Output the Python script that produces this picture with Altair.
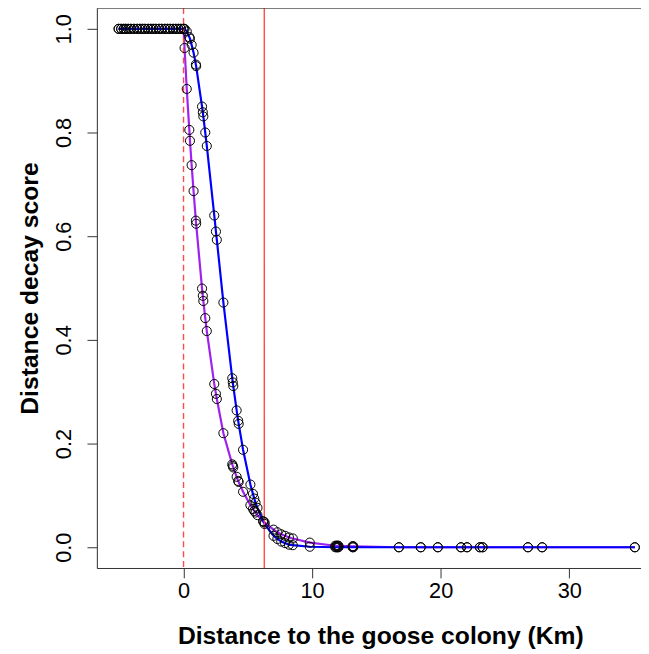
import altair as alt
import pandas as pd

# distances (km) left of the colony edge: both scores are 1
neg_x = [-5.05, -4.85, -4.65, -4.5, -4.3, -4.1, -3.85, -3.6, -3.4, -3.2, -3.0,
         -2.75, -2.55, -2.35, -2.15, -1.9, -1.7, -1.45, -1.25, -1.05, -0.8,
         -0.6, -0.4, -0.2, 0.0]

pos_x = [0.08, 0.25, 0.45, 0.50, 0.63, 0.78, 0.96, 0.98, 1.44, 1.50, 1.54,
         1.69, 1.81, 2.39, 2.52, 2.59, 3.10, 3.79, 3.83, 3.87, 4.13, 4.25,
         4.29, 4.63, 5.20, 5.40, 5.50, 5.60, 5.75, 6.20, 6.30, 7.00, 7.30,
         7.60, 7.90, 8.20, 8.50, 9.82, 11.80, 11.90, 11.98, 12.05, 13.15,
         13.20, 16.75, 18.45, 19.78, 21.58, 22.05, 23.05, 23.26, 26.79,
         27.89, 35.10]

purple_pos = [0.963, 0.884, 0.805, 0.784, 0.737, 0.687, 0.630, 0.624, 0.499,
              0.485, 0.475, 0.442, 0.417, 0.315, 0.296, 0.286, 0.220, 0.160,
              0.157, 0.154, 0.136, 0.128, 0.126, 0.107, 0.081, 0.074, 0.070,
              0.067, 0.062, 0.050, 0.048, 0.034, 0.029, 0.025, 0.022, 0.019,
              0.017, 0.009, 0.003, 0.003, 0.003, 0.003, 0.002, 0.002, 0.0,
              0.0, 0.0, 0.0, 0.0, 0.0, 0.0, 0.0, 0.0, 0.0]

blue_pos = [1.000, 0.995, 0.984, 0.981, 0.969, 0.954, 0.931, 0.928, 0.850,
            0.839, 0.831, 0.800, 0.774, 0.640, 0.609, 0.593, 0.472, 0.326,
            0.318, 0.311, 0.264, 0.244, 0.238, 0.188, 0.121, 0.103, 0.094,
            0.086, 0.076, 0.050, 0.045, 0.022, 0.016, 0.011, 0.008, 0.005,
            0.004, 0.001, 0.0, 0.0, 0.0, 0.0, 0.0, 0.0, 0.0, 0.0, 0.0, 0.0,
            0.0, 0.0, 0.0, 0.0, 0.0, 0.0]

series_names = ["purple", "blue"]
series_colors = ["#A020F0", "#0000FF"]

vline_x = [0.0, 6.28]
vline_dash = ["dashed", "solid"]

x_ticks = [0, 10, 20, 30]
y_ticks = [0.0, 0.2, 0.4, 0.6, 0.8, 1.0]

rows = []
for name, ys in zip(series_names, [purple_pos, blue_pos]):
    for x in neg_x:
        rows.append({"x": x, "y": 1.0, "series": name})
    for x, y in zip(pos_x, ys):
        rows.append({"x": x, "y": y, "series": name})
df = pd.DataFrame(rows)

vdf = pd.DataFrame({"x": vline_x, "kind": vline_dash})

FONT = "Liberation Sans"
XDOM = [-6.74, 35.58]
YDOM = [-0.04, 1.04]
W, H = 551, 567

xscale = alt.Scale(domain=XDOM, nice=False, zero=False)
yscale = alt.Scale(domain=YDOM, nice=False, zero=False)

xaxis = alt.Axis(values=x_ticks, tickSize=10, tickColor="#333", domainColor="#333",
                 tickWidth=1, domainWidth=1, grid=False, labelFont=FONT,
                 labelFontSize=22, labelColor="black", labelBaseline="alphabetic",
                 labelPadding=20, labelFlush=False,
                 title="Distance to the goose colony (Km)", titleFont=FONT,
                 titleFontSize=25, titleFontWeight="bold", titleColor="black",
                 titleBaseline="alphabetic", titleAlign="center", titleX=287,
                 titleY=76)
yaxis = alt.Axis(values=y_ticks, format=".1f", tickSize=10, tickColor="#333",
                 domainColor="#333", tickWidth=1, domainWidth=1, grid=False,
                 labelFont=FONT, labelFontSize=22, labelColor="black",
                 labelAngle=270, labelAlign="center", labelBaseline="alphabetic",
                 labelPadding=17, labelFlush=False,
                 title="Distance decay score", titleFont=FONT, titleFontSize=25,
                 titleFontWeight="bold", titleColor="black", titleAngle=270,
                 titleBaseline="alphabetic", titleAlign="center", titleX=-60,
                 titleY=H / 2)

base = alt.Chart(df)

def line_layer(name, color):
    return base.transform_filter(alt.datum.series == name).mark_line(
        color=color, strokeWidth=2.2
    ).encode(
        x=alt.X("x:Q", scale=xscale, axis=xaxis),
        y=alt.Y("y:Q", scale=yscale, axis=yaxis),
        order="x:Q",
    )

purple_line = line_layer("purple", series_colors[0])
blue_line = line_layer("blue", series_colors[1])

points = base.mark_point(shape="circle", filled=False, color="black", size=85,
                         strokeWidth=1, opacity=1).encode(
    x=alt.X("x:Q", scale=xscale),
    y=alt.Y("y:Q", scale=yscale),
)

vlines = alt.Chart(vdf).mark_rule(color="#ff4a4a", strokeWidth=1.4).encode(
    x=alt.X("x:Q", scale=xscale),
    strokeDash=alt.StrokeDash("kind:N", scale=alt.Scale(domain=["dashed", "solid"],
                                                        range=[[6, 4], [1, 0]]),
                              legend=None),
)

top_border = alt.Chart(pd.DataFrame({"y": [YDOM[1]]})).mark_rule(
    color="#333", strokeWidth=1).encode(y=alt.Y("y:Q", scale=yscale))

chart = alt.layer(purple_line, blue_line, vlines, points, top_border).properties(
    width=W, height=H,
    autosize=alt.AutoSizeParams(type="none"),
    padding={"left": 90, "top": -4, "right": 0, "bottom": 83},
).configure_view(stroke=None).configure(background="white")

chart.save("out.html", embed_options={"renderer": "svg", "actions": False})
